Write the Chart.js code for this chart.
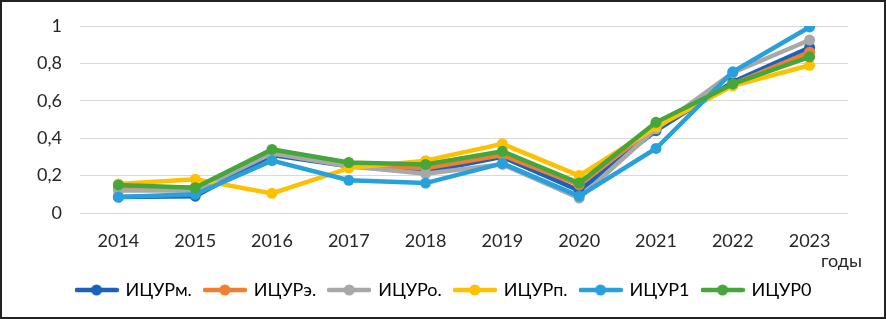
<!DOCTYPE html>
<html lang="ru">
<head>
<meta charset="utf-8">
<script src="https://cdn.jsdelivr.net/npm/chart.js@4/dist/chart.umd.min.js"></script>
<style>
  html, body { margin: 0; padding: 0; background: #fff; }
  #box { width: 882px; height: 315px; border: 2px solid #222; position: relative; }
  canvas { display: block; }
</style>
</head>
<body>
<div id="box"><canvas id="chart" width="882" height="315"></canvas></div>
<script>
/* ── data ── */
const years = ['2014', '2015', '2016', '2017', '2018', '2019', '2020', '2021', '2022', '2023'];
const seriesNames = ['ИЦУРм.', 'ИЦУРэ.', 'ИЦУРо.', 'ИЦУРп.', 'ИЦУР1', 'ИЦУР0'];
const icurM = [0.085, 0.09, 0.31, 0.25, 0.22, 0.30, 0.12, 0.44, 0.70, 0.885];
const icurE = [0.14, 0.135, 0.32, 0.26, 0.24, 0.31, 0.15, 0.47, 0.69, 0.86];
const icurO = [0.12, 0.12, 0.32, 0.25, 0.21, 0.26, 0.08, 0.45, 0.75, 0.925];
const icurP = [0.155, 0.18, 0.105, 0.24, 0.28, 0.37, 0.20, 0.46, 0.68, 0.79];
const icur1 = [0.085, 0.10, 0.28, 0.175, 0.16, 0.265, 0.09, 0.345, 0.755, 0.995];
const icur0 = [0.15, 0.135, 0.34, 0.27, 0.26, 0.33, 0.16, 0.485, 0.69, 0.835];
const yTicks = [0, 0.2, 0.4, 0.6, 0.8, 1];

const seriesValues = [icurM, icurE, icurO, icurP, icur1, icur0];
const colors = ['#1B62BE', '#F47E30', '#A8A8A8', '#FFC000', '#28A0DC', '#45A63A'];

const FONT = "Lato, 'Open Sans', sans-serif";
const TEXT = '#262626';

/* legend marker: short line with a dot */
function legendMarker(color) {
    const c = document.createElement('canvas');
    c.width = 44; c.height = 14;
    const g = c.getContext('2d');
    g.strokeStyle = color; g.lineWidth = 4.5; g.lineCap = 'round';
    g.beginPath(); g.moveTo(2, 7); g.lineTo(42, 7); g.stroke();
    g.fillStyle = color;
    g.beginPath(); g.arc(22, 7, 5.5, 0, Math.PI * 2); g.fill();
    return c;
}
const markers = colors.map(legendMarker);

/* "годы" caption under the last category */
const unitLabel = {
    id: 'unitLabel',
    afterDraw(chart) {
        const ctx = chart.ctx;
        ctx.save();
        ctx.font = `18px ${FONT}`;
        ctx.fillStyle = TEXT;
        ctx.textAlign = 'left';
        ctx.textBaseline = 'middle';
        ctx.fillText('годы', 819, 259);
        ctx.restore();
    }
};

/* the legend row sits a bit right of the canvas centre */
const legendShift = {
    id: 'legendShift',
    afterLayout(chart) {
        chart.legend.left += 19;
        chart.legend.right += 19;
    }
};

const datasets = seriesNames.map((name, i) => ({
    label: name,
    data: seriesValues[i],
    borderColor: colors[i],
    backgroundColor: colors[i],
    borderWidth: 4.5,
    pointRadius: 5.5,
    pointHoverRadius: 6,
    pointBorderWidth: 0,
    tension: 0,
    order: seriesNames.length - i,
}));

new Chart(document.getElementById('chart'), {
    type: 'line',
    data: { labels: years, datasets },
    plugins: [unitLabel, legendShift],
    options: {
        responsive: false,
        animation: false,
        layout: { padding: { top: 24, right: 36, left: 0, bottom: 8 } },
        plugins: {
            tooltip: { enabled: false },
            legend: {
                position: 'bottom',
                labels: {
                    font: { family: FONT, size: 18 },
                    color: TEXT,
                    usePointStyle: true,
                    pointStyleWidth: 40,
                    padding: 13,
                    generateLabels: (chart) => chart.data.datasets.map((ds, i) => ({
                        text: ds.label,
                        pointStyle: markers[i],
                        fillStyle: colors[i],
                        strokeStyle: colors[i],
                        lineWidth: 0,
                        hidden: false,
                        datasetIndex: i,
                    })),
                },
            },
        },
        scales: {
            x: {
                offset: true,
                grid: { display: false },
                border: { display: false },
                ticks: { font: { family: FONT, size: 18 }, color: TEXT, padding: 9 },
                afterFit: (s) => { s.height = 55; },
            },
            y: {
                min: 0, max: 1,
                afterBuildTicks: (s) => { s.ticks = yTicks.map(v => ({ value: v })); },
                grid: { color: '#D9D9D9', lineWidth: 1, drawTicks: true, tickLength: 14, tickColor: 'rgba(0,0,0,0)' },
                border: { display: false },
                ticks: {
                    font: { family: FONT, size: 18 }, color: TEXT, padding: 4,
                    callback: (v) => String(v).replace('.', ','),
                },
                afterFit: (s) => { s.width = 78; },
            },
        },
    },
});
</script>
</body>
</html>
